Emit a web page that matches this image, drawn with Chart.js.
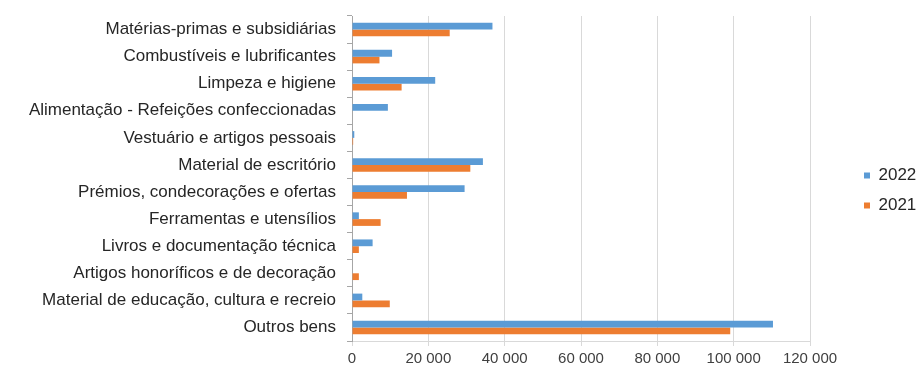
<!DOCTYPE html>
<html>
<head>
<meta charset="utf-8">
<script src="https://cdn.jsdelivr.net/npm/chart.js@4.4.1/dist/chart.umd.min.js"></script>
<style>
    html, body { margin: 0; padding: 0; background: #ffffff; }
    #wrap { width: 921px; height: 371px; }
</style>
</head>
<body>
<div id="wrap"><canvas id="chart" width="921" height="371"></canvas></div>
<script>
const categories = [
    'Matérias-primas e subsidiárias',
    'Combustíveis e lubrificantes',
    'Limpeza e higiene',
    'Alimentação - Refeições confeccionadas',
    'Vestuário e artigos pessoais',
    'Material de escritório',
    'Prémios, condecorações e ofertas',
    'Ferramentas e utensílios',
    'Livros e documentação técnica',
    'Artigos honoríficos e de decoração',
    'Material de educação, cultura e recreio',
    'Outros bens'
];

const values2022 = [36800, 10500, 21800, 9400, 600, 34300, 29500, 1800, 5400, 0, 2700, 110300];
const values2021 = [25600, 7200, 13000, 0, 300, 31000, 14400, 7500, 1800, 1800, 9900, 99100];

const xMax = 120000;
const xStep = 20000;

// thousands with a plain space, like the original
const formatTick = (value) => String(value).replace(/\B(?=(\d{3})+(?!\d))/g, ' ');

// legend sits in a wide right-hand column, items pushed towards the right edge
const legendWidth = 111;
const legendShiftX = 41;
const legendShiftY = -3;

const legendPlacement = {
    id: 'legendPlacement',
    beforeInit(chart) {
        const legend = chart.legend;
        const fit = legend.fit;
        legend.fit = function () {
            fit.call(this);
            this.width = legendWidth;
        };
    },
    afterLayout(chart) {
        chart.legend.left += legendShiftX;
        chart.legend.right += legendShiftX;
        chart.legend.top += legendShiftY;
        chart.legend.bottom += legendShiftY;
    }
};

const ctx = document.getElementById('chart').getContext('2d');

new Chart(ctx, {
    type: 'bar',
    data: {
        labels: categories,
        datasets: [
            {
                label: '2022',
                data: values2022,
                backgroundColor: '#5B9BD5',
                borderWidth: 0
            },
            {
                label: '2021',
                data: values2021,
                backgroundColor: '#ED7D31',
                borderWidth: 0
            }
        ]
    },
    plugins: [legendPlacement],
    options: {
        indexAxis: 'y',
        responsive: false,
        animation: false,
        layout: {
            padding: { top: 16, right: 0, bottom: 0, left: 0 }
        },
        datasets: {
            bar: {
                categoryPercentage: 0.5,
                barPercentage: 1
            }
        },
        scales: {
            x: {
                min: 0,
                max: xMax,
                afterFit: (scale) => { scale.height = 30; },
                ticks: {
                    stepSize: xStep,
                    color: '#404040',
                    padding: 4,
                    maxRotation: 0,
                    font: { family: 'Liberation Sans', size: 15 },
                    callback: (value) => formatTick(value)
                },
                grid: {
                    color: '#d9d9d9',
                    tickColor: '#d9d9d9',
                    tickLength: 5
                },
                border: { display: true, color: '#d9d9d9' }
            },
            y: {
                afterFit: (scale) => {
                    scale.width = 352;
                    scale.paddingTop = 0;
                    scale.paddingBottom = 0;
                },
                ticks: {
                    color: '#262626',
                    padding: 11,
                    font: { family: 'Liberation Sans', size: 17 }
                },
                grid: {
                    drawOnChartArea: false,
                    tickLength: 5,
                    tickColor: '#a6a6a6',
                    offset: true
                },
                border: { display: true, color: '#a6a6a6' }
            }
        },
        plugins: {
            legend: {
                position: 'right',
                labels: {
                    boxWidth: 6,
                    boxHeight: 6,
                    padding: 13,
                    color: '#262626',
                    font: { family: 'Liberation Sans', size: 17 }
                }
            },
            tooltip: { enabled: false }
        }
    }
});
</script>
</body>
</html>
